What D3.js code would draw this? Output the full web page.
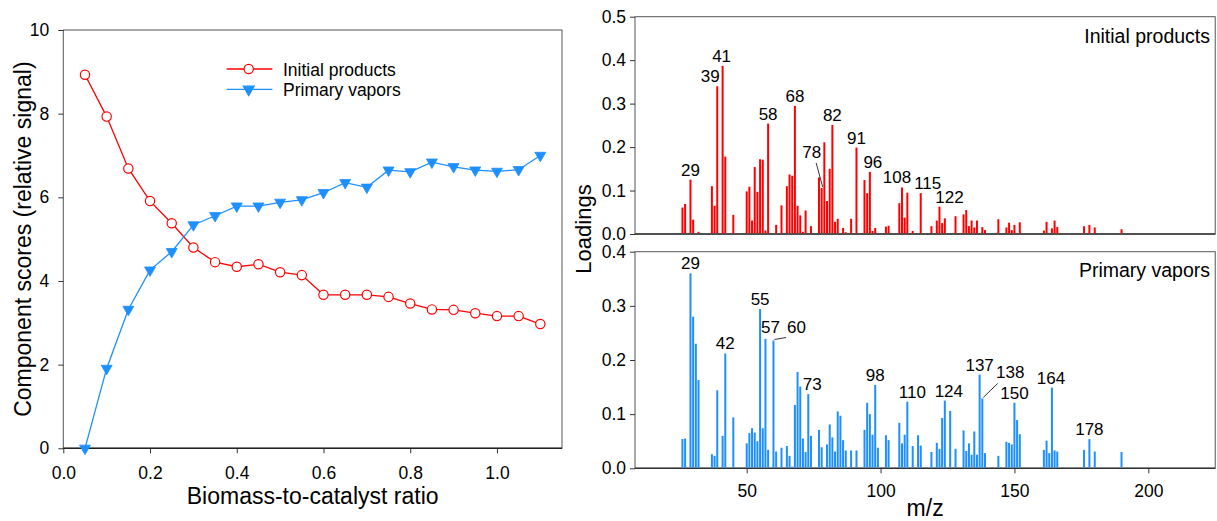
<!DOCTYPE html>
<html>
<head>
<meta charset="utf-8">
<script src="https://cdn.jsdelivr.net/npm/d3@7"></script>
<style>
  body { margin: 0; background: #fff; }
  svg { display: block; font-family: Arial, "Liberation Sans", sans-serif; }
</style>
</head>
<body>
<div id="chart"></div>
<script>
// Left panel: component scores vs biomass-to-catalyst ratio
const ratios = [0.05, 0.10, 0.15, 0.20, 0.25, 0.30, 0.35, 0.40, 0.45, 0.50, 0.55,
                0.60, 0.65, 0.70, 0.75, 0.80, 0.85, 0.90, 0.95, 1.00, 1.05, 1.10];
const initialScores = [8.93, 7.93, 6.69, 5.91, 5.38, 4.80, 4.45, 4.34, 4.40, 4.21, 4.14,
                       3.67, 3.67, 3.67, 3.62, 3.46, 3.32, 3.31, 3.23, 3.16, 3.16, 2.97];
const primaryScores = [0.00, 1.91, 3.32, 4.26, 4.70, 5.34, 5.56, 5.79, 5.79, 5.88, 5.94,
                       6.11, 6.35, 6.24, 6.65, 6.61, 6.84, 6.73, 6.65, 6.62, 6.66, 7.00];
const ratioTicks = [0.0, 0.2, 0.4, 0.6, 0.8, 1.0];
const scoreTicks = [0, 2, 4, 6, 8, 10];

// Right panels: loadings spectra
const mzInitial = [26, 27, 29, 30, 32, 37, 38, 39, 41, 42, 45, 50, 51, 52, 53, 54, 55, 56, 57, 58,
                   61, 63, 65, 66, 67, 68, 69, 70, 71, 72, 74, 77, 78, 79, 80, 81, 82, 83, 84, 86,
                   87, 89, 91, 94, 95, 96, 97, 98, 102, 103, 107, 108, 109, 110, 112, 115, 119, 121,
                   122, 123, 124, 128, 131, 132, 133, 134, 135, 136, 138, 139, 144, 147, 148, 149,
                   150, 151, 152, 161, 162, 164, 165, 166, 176, 178, 180, 190];
const loadInitial = [0.061, 0.069, 0.125, 0.033, 0.005, 0.110, 0.065, 0.340, 0.387, 0.178, 0.044,
                     0.098, 0.109, 0.031, 0.154, 0.097, 0.172, 0.171, 0.008, 0.254, 0.021, 0.066,
                     0.110, 0.137, 0.134, 0.295, 0.065, 0.043, 0.005, 0.054, 0.018, 0.130, 0.106,
                     0.211, 0.076, 0.150, 0.251, 0.028, 0.035, 0.014, 0.004, 0.035, 0.199, 0.124,
                     0.094, 0.143, 0.007, 0.014, 0.017, 0.019, 0.071, 0.107, 0.038, 0.095, 0.007,
                     0.094, 0.018, 0.031, 0.063, 0.025, 0.036, 0.041, 0.045, 0.055, 0.018, 0.031,
                     0.015, 0.031, 0.016, 0.009, 0.034, 0.015, 0.026, 0.009, 0.021, 0.002, 0.027,
                     0.008, 0.028, 0.013, 0.031, 0.016, 0.018, 0.021, 0.015, 0.011];
const mzPrimary = [26, 27, 29, 30, 31, 32, 37, 38, 39, 41, 42, 45, 50, 51, 52, 53, 54, 55, 56, 57,
                   58, 60, 61, 63, 65, 66, 67, 68, 69, 70, 71, 72, 73, 74, 77, 78, 80, 81, 82, 83,
                   84, 85, 86, 87, 89, 91, 94, 95, 96, 97, 98, 99, 102, 103, 107, 108, 109, 110,
                   112, 114, 115, 119, 121, 122, 123, 124, 126, 128, 131, 132, 133, 134, 135, 136,
                   137, 138, 139, 144, 147, 148, 149, 150, 151, 152, 161, 162, 163, 164, 165, 166,
                   176, 178, 180, 190];
const loadPrimary = [0.054, 0.055, 0.360, 0.280, 0.230, 0.163, 0.026, 0.023, 0.144, 0.060, 0.212,
                     0.094, 0.046, 0.065, 0.074, 0.066, 0.050, 0.294, 0.074, 0.239, 0.034, 0.236,
                     0.031, 0.038, 0.041, 0.023, 0.003, 0.117, 0.178, 0.151, 0.055, 0.030, 0.137,
                     0.060, 0.071, 0.039, 0.044, 0.081, 0.057, 0.031, 0.105, 0.097, 0.052, 0.033,
                     0.033, 0.033, 0.071, 0.121, 0.100, 0.062, 0.154, 0.038, 0.061, 0.052, 0.084,
                     0.046, 0.062, 0.123, 0.041, 0.061, 0.042, 0.030, 0.047, 0.036, 0.093, 0.125,
                     0.106, 0.036, 0.070, 0.032, 0.046, 0.025, 0.068, 0.025, 0.173, 0.129, 0.028,
                     0.023, 0.049, 0.047, 0.044, 0.121, 0.089, 0.063, 0.034, 0.051, 0.028, 0.149,
                     0.033, 0.031, 0.034, 0.054, 0.031, 0.030];
const peaksInitial = [29, 39, 41, 58, 68, 78, 82, 91, 96, 108, 115, 122];
const peaksPrimary = [29, 42, 55, 57, 60, 73, 98, 110, 124, 137, 138, 150, 164, 178];
const mzTicks = [50, 100, 150, 200];
const initialTicks = [0.0, 0.1, 0.2, 0.3, 0.4, 0.5];
const primaryTicks = [0.0, 0.1, 0.2, 0.3, 0.4];

// label nudges in px [dx, dy] and which peaks get a leader line
const nudgeInitial = { 39: [-7, 0], 41: [-1, 0], 78: [-10, -26], 96: [3, 0], 108: [-5, 0], 115: [7, 0], 122: [10, 0] };
const nudgePrimary = { 42: [0, -1], 57: [5, -2], 60: [23, -4], 73: [4, 0], 110: [5, 0], 124: [4, 0], 138: [28, -16], 164: [-1, 0] };
const leaders = { 78: true, 60: true, 138: true };

const RED = '#ff0000';
const BLUE = '#1e8fff';
const FRAME = '#555';

const svg = d3.select('#chart').append('svg')
  .attr('width', 1217)
  .attr('height', 521);

function styleAxis(g, size) {
  g.select('.domain').remove();
  g.selectAll('.tick line').attr('stroke', '#333');
  g.selectAll('.tick text').attr('fill', '#000').style('font-size', size + 'px');
}

// ---------- left chart ----------
const xL = d3.scaleLinear().domain([0, 1.15]).range([63.3, 562]);
const yL = d3.scaleLinear().domain([0, 10]).range([448.3, 30]);

svg.append('rect')
  .attr('x', xL(0)).attr('y', yL(10))
  .attr('width', xL(1.15) - xL(0)).attr('height', yL(0) - yL(10))
  .attr('fill', 'none').attr('stroke', FRAME);

svg.append('g')
  .attr('transform', `translate(0,${yL(0)})`)
  .call(d3.axisBottom(xL).tickValues(ratioTicks).tickFormat(d3.format('.1f')).tickSize(5).tickPadding(13))
  .call(g => styleAxis(g, 17.5));
svg.append('line')
  .attr('x1', xL(0)).attr('x2', xL(1.15)).attr('y1', yL(0)).attr('y2', yL(0))
  .attr('stroke', '#222').attr('stroke-width', 1.5);

svg.append('g')
  .attr('transform', `translate(${xL(0)},0)`)
  .call(d3.axisLeft(yL).tickValues(scoreTicks).tickFormat(d3.format('d')).tickSize(5).tickPadding(9))
  .call(g => styleAxis(g, 17.5));

const lineL = d3.line().x(d => xL(d[0])).y(d => yL(d[1]));
const initialPts = ratios.map((r, i) => [r, initialScores[i]]);
const primaryPts = ratios.map((r, i) => [r, primaryScores[i]]);

svg.append('path').datum(initialPts)
  .attr('d', lineL).attr('fill', 'none').attr('stroke', RED).attr('stroke-width', 1.3);
svg.append('path').datum(primaryPts)
  .attr('d', lineL).attr('fill', 'none').attr('stroke', BLUE).attr('stroke-width', 1.3);

const circleSym = d3.symbol().type(d3.symbolCircle).size(68);
const triSym = d3.symbol().type(d3.symbolTriangle).size(52);

svg.selectAll('path.pi').data(initialPts).enter().append('path')
  .attr('class', 'pi')
  .attr('d', circleSym)
  .attr('transform', d => `translate(${xL(d[0])},${yL(d[1])})`)
  .attr('fill', '#fff').attr('stroke', RED).attr('stroke-width', 1.2);

svg.selectAll('path.pp').data(primaryPts).enter().append('path')
  .attr('class', 'pp')
  .attr('d', triSym)
  .attr('transform', d => `translate(${xL(d[0])},${yL(d[1])}) rotate(180)`)
  .attr('fill', BLUE).attr('stroke', BLUE).attr('stroke-width', 0.8);

// legend
const legend = svg.append('g');
const legendItems = [
  { name: 'Initial products', color: RED, sym: circleSym, fill: '#fff', rot: 0 },
  { name: 'Primary vapors', color: BLUE, sym: triSym, fill: BLUE, rot: 180 }
];
legendItems.forEach((it, i) => {
  const y = 69 + i * 20.3;
  legend.append('line')
    .attr('x1', 226.7).attr('x2', 272.4).attr('y1', y).attr('y2', y)
    .attr('stroke', it.color).attr('stroke-width', 1.3);
  legend.append('path')
    .attr('d', it.sym)
    .attr('transform', `translate(248.7,${y}) rotate(${it.rot})`)
    .attr('fill', it.fill).attr('stroke', it.color).attr('stroke-width', 1.2);
  legend.append('text')
    .attr('x', 283).attr('y', y + 6.5)
    .style('font-size', '17.5px')
    .text(it.name);
});

svg.append('text')
  .attr('transform', `translate(31,${(yL(0) + yL(10)) / 2}) rotate(-90)`)
  .attr('text-anchor', 'middle')
  .style('font-size', '23px')
  .text('Component scores (relative signal)');

svg.append('text')
  .attr('x', (xL(0) + xL(1.15)) / 2).attr('y', 504)
  .attr('text-anchor', 'middle')
  .style('font-size', '23px')
  .text('Biomass-to-catalyst ratio');

// ---------- right charts ----------
const xR = d3.scaleLinear().domain([50, 200]).range([746.7, 1148.3]);
const mzMin = xR.invert(635), mzMax = 225;
const yT = d3.scaleLinear().domain([0, 0.5]).range([234, 16.7]);
const yB = d3.scaleLinear().domain([0, 0.4]).range([468.3, 251.7]);

function drawPanel(yScale, ticks, mz, load, peaks, nudge, color, title, titleY, showX) {
  const top = yScale.range()[1], bottom = yScale.range()[0];
  svg.append('rect')
    .attr('x', xR(mzMin)).attr('y', top)
    .attr('width', xR(mzMax) - xR(mzMin)).attr('height', bottom - top)
    .attr('fill', 'none').attr('stroke', FRAME);

  svg.append('g')
    .attr('transform', `translate(${xR(mzMin)},0)`)
    .call(d3.axisLeft(yScale).tickValues(ticks).tickFormat(d3.format('.1f')).tickSize(5).tickPadding(4))
    .call(g => styleAxis(g, 17.5));

  if (showX) {
    svg.append('g')
      .attr('transform', `translate(0,${bottom})`)
      .call(d3.axisBottom(xR).tickValues(mzTicks).tickSize(5).tickPadding(11))
      .call(g => styleAxis(g, 17.5));
  }
  svg.append('line')
    .attr('x1', xR(mzMin)).attr('x2', xR(mzMax)).attr('y1', bottom).attr('y2', bottom)
    .attr('stroke', '#333').attr('stroke-width', 1.5);

  const bars = mz.map((m, i) => ({ m, v: load[i] }));
  svg.append('g').selectAll('rect').data(bars).enter().append('rect')
    .attr('x', d => xR(d.m) - 1)
    .attr('width', 2)
    .attr('y', d => yScale(d.v))
    .attr('height', d => yScale(0) - yScale(d.v) - 0.75)
    .attr('fill', color);

  const lab = svg.append('g');
  peaks.forEach(p => {
    const v = load[mz.indexOf(p)];
    const [dx, dy] = nudge[p] || [0, 0];
    const bx = xR(p), by = yScale(v);
    lab.append('text')
      .attr('x', bx + dx).attr('y', by - 4 + dy)
      .attr('text-anchor', 'middle')
      .style('font-size', '17px')
      .text(p);
    if (leaders[p]) {
      lab.append('line')
        .attr('x1', bx + 1).attr('y1', by - 1)
        .attr('x2', bx + dx * 0.55).attr('y2', by + dy + 1)
        .attr('stroke', '#000').attr('stroke-width', 0.8);
    }
  });

  svg.append('text')
    .attr('x', 1210).attr('y', titleY)
    .attr('text-anchor', 'end')
    .style('font-size', '19.5px')
    .text(title);
}

drawPanel(yT, initialTicks, mzInitial, loadInitial, peaksInitial, nudgeInitial, RED, 'Initial products', 43, false);
drawPanel(yB, primaryTicks, mzPrimary, loadPrimary, peaksPrimary, nudgePrimary, BLUE, 'Primary vapors', 277, true);

svg.append('text')
  .attr('transform', `translate(591,229) rotate(-90)`)
  .attr('text-anchor', 'middle')
  .style('font-size', '22px')
  .text('Loadings');

svg.append('text')
  .attr('x', (xR(mzMin) + xR(mzMax)) / 2).attr('y', 516)
  .attr('text-anchor', 'middle')
  .style('font-size', '23px')
  .text('m/z');
</script>
</body>
</html>
